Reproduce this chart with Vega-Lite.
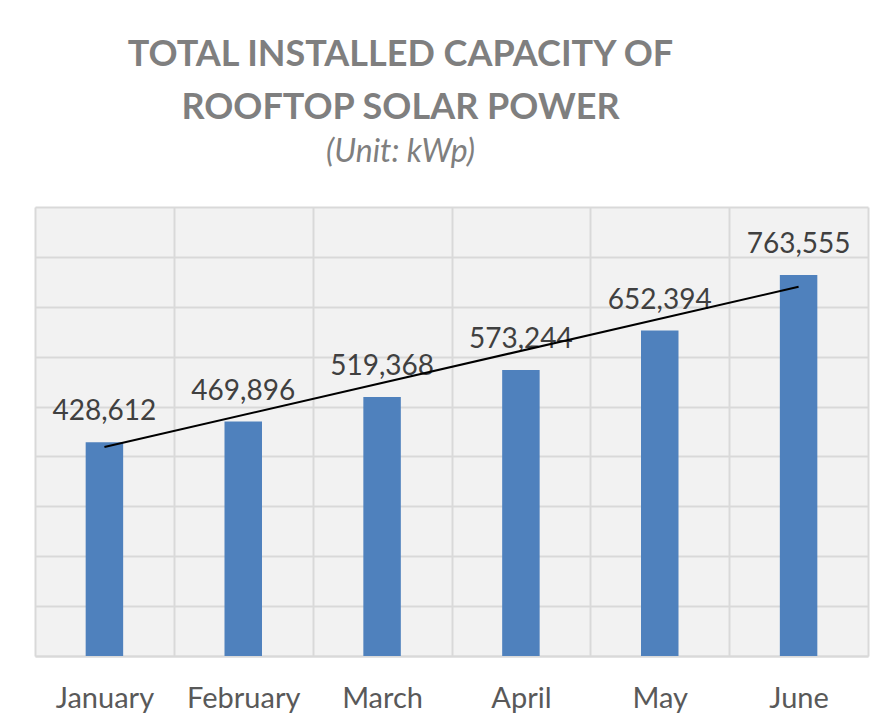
{
  "$schema": "https://vega.github.io/schema/vega-lite/v6.json",
  "width": 833,
  "height": 449,
  "autosize": {"type": "none"},
  "padding": {"left": 35, "top": 207, "right": 21, "bottom": 72},
  "background": "#ffffff",
  "title": {
    "text": ["TOTAL INSTALLED CAPACITY OF", "ROOFTOP SOLAR POWER"],
    "subtitle": "(Unit: kWp)",
    "font": "Lato",
    "fontSize": 36,
    "fontWeight": "bold",
    "color": "#7f7f7f",
    "lineHeight": 53,
    "subtitleFont": "Lato",
    "subtitleFontSize": 32,
    "subtitleFontStyle": "italic",
    "subtitleFontWeight": "normal",
    "subtitleColor": "#7f7f7f",
    "subtitlePadding": 10,
    "anchor": "middle",
    "dx": -51,
    "offset": 38
  },
  "datasets": {
    "capacity": [
      {"month": "January", "capacity": 428612},
      {"month": "February", "capacity": 469896},
      {"month": "March", "capacity": 519368},
      {"month": "April", "capacity": 573244},
      {"month": "May", "capacity": 652394},
      {"month": "June", "capacity": 763555}
    ],
    "trend": [
      {"month": "January", "trend": 419000},
      {"month": "June", "trend": 740000}
    ]
  },
  "layer": [
    {
      "data": {"name": "capacity"},
      "mark": {"type": "bar", "color": "#4f81bd", "width": {"band": 0.27}},
      "encoding": {
        "x": {
          "field": "month",
          "type": "nominal",
          "sort": null,
          "scale": {"domain": ["January", "February", "March", "April", "May", "June"], "paddingInner": 0, "paddingOuter": 0},
          "axis": {
            "title": null,
            "orient": "bottom",
            "labelAngle": 0,
            "labelFont": "Lato",
            "labelFontSize": 29,
            "labelColor": "#595959",
            "labelPadding": 28,
            "ticks": false,
            "domain": true,
            "domainColor": "#d9d9d9",
            "domainWidth": 2,
            "grid": true,
            "gridColor": "#d9d9d9",
            "gridWidth": 2,
            "tickBand": "extent"
          }
        },
        "y": {
          "field": "capacity",
          "type": "quantitative",
          "scale": {"domain": [0, 900000], "nice": false},
          "axis": {
            "title": null,
            "labels": false,
            "ticks": false,
            "domain": false,
            "grid": true,
            "gridColor": "#d9d9d9",
            "gridWidth": 2,
            "values": [0, 100000, 200000, 300000, 400000, 500000, 600000, 700000, 800000, 900000]
          }
        }
      }
    },
    {
      "data": {"name": "capacity"},
      "mark": {"type": "text", "font": "Lato", "fontSize": 28, "color": "#404040", "baseline": "alphabetic", "dy": -22},
      "encoding": {
        "x": {"field": "month", "type": "nominal", "sort": null},
        "y": {"field": "capacity", "type": "quantitative"},
        "text": {"field": "capacity", "type": "quantitative", "format": ",d"}
      }
    },
    {
      "data": {"name": "trend"},
      "mark": {"type": "line", "color": "#000000", "strokeWidth": 2},
      "encoding": {
        "x": {"field": "month", "type": "nominal", "sort": null},
        "y": {"field": "trend", "type": "quantitative"}
      }
    }
  ],
  "config": {
    "view": {"stroke": null, "fill": "#f2f2f2"}
  }
}
